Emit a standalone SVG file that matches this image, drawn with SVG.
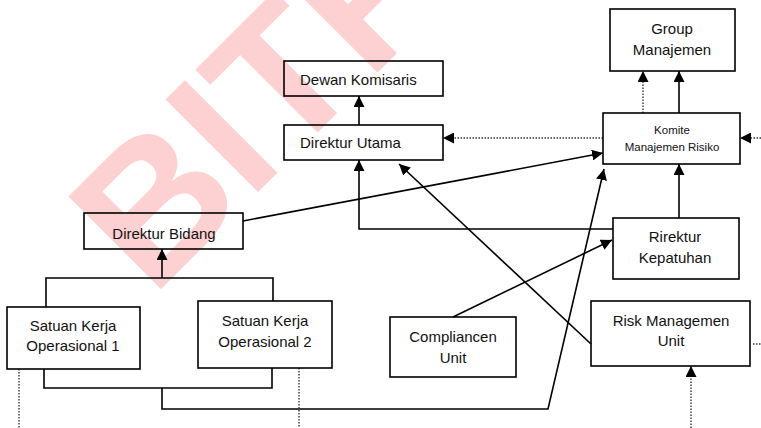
<svg xmlns="http://www.w3.org/2000/svg" width="761" height="428" viewBox="0 0 761 428">
  <style>
    .box { fill: none; stroke: #000; stroke-width: 1.6; }
    .lbl { font-family: "Liberation Sans", Arial, sans-serif; font-size: 15px; fill: #111; text-anchor: middle; }
    .lbl-l { font-family: "Liberation Sans", Arial, sans-serif; font-size: 15px; fill: #111; text-anchor: start; }
    .lbl-s { font-family: "Liberation Sans", Arial, sans-serif; font-size: 11.5px; fill: #111; text-anchor: middle; }
    .ln { fill: none; stroke: #000; stroke-width: 1.6; }
    .dot { fill: none; stroke: #333; stroke-width: 1.4; stroke-dasharray: 1.5 1.5; }
    .wm { font-family: "Liberation Sans", Arial, sans-serif; font-weight: bold; font-size: 190px; fill: #fdd0d2; }
  </style>
  <defs>
    <marker id="arrow" markerUnits="userSpaceOnUse" markerWidth="11" markerHeight="11" refX="11" refY="5.5" orient="auto">
      <path d="M0,0 L11,5.5 L0,11 z" fill="#000"/>
    </marker>
  </defs>

  <rect width="761" height="428" fill="#fff"/>

  <!-- background watermark -->
  <text class="wm" transform="translate(152,298) rotate(-45)">BITF</text>

  <!-- connectors -->
  <g id="connectors">
    <line class="ln" x1="359" y1="125" x2="359" y2="96" marker-end="url(#arrow)"/>
    <path class="ln" d="M613,229 H359 V160" marker-end="url(#arrow)"/>
    <line class="ln" x1="243" y1="221" x2="603" y2="153" marker-end="url(#arrow)"/>
    <path class="ln" d="M44,369 V388 H272 V368"/>
    <path class="ln" d="M162,388 V409 H548 L604,169" marker-end="url(#arrow)"/>
    <path class="ln" d="M46,307 V278 H273 V301"/>
    <line class="ln" x1="162" y1="278" x2="162" y2="249" marker-end="url(#arrow)"/>
    <line class="ln" x1="453" y1="317" x2="612" y2="240" marker-end="url(#arrow)"/>
    <line class="ln" x1="591" y1="344" x2="399" y2="164" marker-end="url(#arrow)"/>
    <line class="ln" x1="679" y1="218" x2="679" y2="164" marker-end="url(#arrow)"/>
    <line class="ln" x1="679" y1="113" x2="679" y2="71" marker-end="url(#arrow)"/>
    <line class="dot" x1="643" y1="113" x2="643" y2="71" marker-end="url(#arrow)"/>
    <line class="dot" x1="603" y1="138" x2="443" y2="138" marker-end="url(#arrow)"/>
    <line class="dot" x1="761" y1="138" x2="740" y2="138" marker-end="url(#arrow)"/>
    <line class="dot" x1="753" y1="344" x2="761" y2="344"/>
    <line class="dot" x1="691" y1="428" x2="691" y2="366" marker-end="url(#arrow)"/>
    <line class="dot" x1="19" y1="369" x2="19" y2="428"/>
    <line class="dot" x1="299" y1="368" x2="299" y2="428"/>
  </g>

  <!-- nodes -->
  <g id="dewan-komisaris">
    <rect class="box" x="284" y="61" width="159" height="35"/>
    <text class="lbl-l" x="300" y="85">Dewan Komisaris</text>
  </g>
  <g id="direktur-utama">
    <rect class="box" x="284" y="125" width="159" height="35"/>
    <text class="lbl-l" x="300" y="148">Direktur Utama</text>
  </g>
  <g id="group-manajemen">
    <rect class="box" x="610" y="9" width="125" height="62"/>
    <text class="lbl" x="672" y="34">Group</text>
    <text class="lbl" x="672" y="55">Manajemen</text>
  </g>
  <g id="komite-manajemen-risiko">
    <rect class="box" x="603" y="113" width="137" height="51"/>
    <text class="lbl-s" x="672" y="134">Komite</text>
    <text class="lbl-s" x="672" y="151">Manajemen  Risiko</text>
  </g>
  <g id="direktur-bidang">
    <rect class="box" x="84" y="213" width="159" height="36"/>
    <text class="lbl" x="164" y="239">Direktur Bidang</text>
  </g>
  <g id="rirektur-kepatuhan">
    <rect class="box" x="613" y="218" width="126" height="61"/>
    <text class="lbl" x="675" y="242">Rirektur</text>
    <text class="lbl" x="675" y="263">Kepatuhan</text>
  </g>
  <g id="satuan-kerja-1">
    <rect class="box" x="7" y="307" width="133" height="62"/>
    <text class="lbl" x="73" y="331">Satuan Kerja</text>
    <text class="lbl" x="73" y="351">Operasional 1</text>
  </g>
  <g id="satuan-kerja-2">
    <rect class="box" x="198" y="301" width="134" height="67"/>
    <text class="lbl" x="265" y="326">Satuan Kerja</text>
    <text class="lbl" x="265" y="347">Operasional 2</text>
  </g>
  <g id="compliancen-unit">
    <rect class="box" x="390" y="317" width="126" height="60"/>
    <text class="lbl" x="453" y="342">Compliancen</text>
    <text class="lbl" x="453" y="363">Unit</text>
  </g>
  <g id="risk-managemen-unit">
    <rect class="box" x="591" y="301" width="159" height="65"/>
    <text class="lbl" x="671" y="326">Risk Managemen</text>
    <text class="lbl" x="671" y="346">Unit</text>
  </g>
</svg>
